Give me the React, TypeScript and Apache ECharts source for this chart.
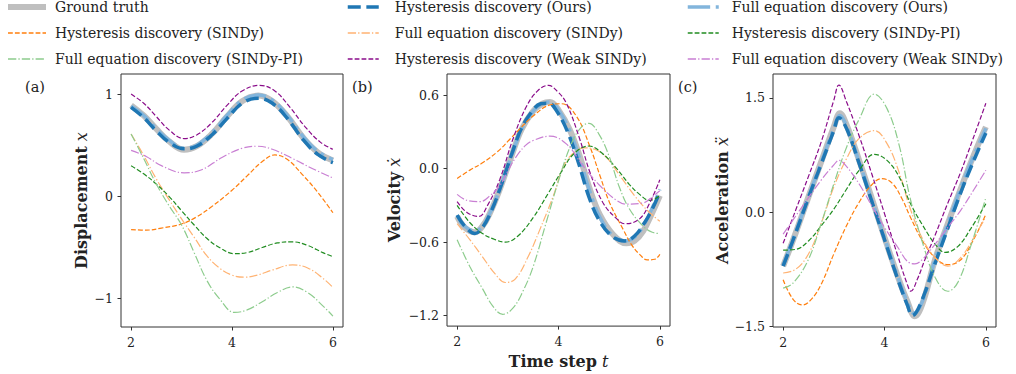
import React, { useEffect, useRef } from "react";
import * as echarts from "echarts";

// ---------- names ----------
const GT = "Ground truth";
const OURS_H = "Hysteresis discovery (Ours)";
const OURS_F = "Full equation discovery (Ours)";
const SINDY_H = "Hysteresis discovery (SINDy)";
const SINDY_F = "Full equation discovery (SINDy)";
const PI_H = "Hysteresis discovery (SINDy-PI)";
const PI_F = "Full equation discovery (SINDy-PI)";
const WEAK_H = "Hysteresis discovery (Weak SINDy)";
const WEAK_F = "Full equation discovery (Weak SINDy)";

const legendCol1 = [GT, SINDY_H, PI_F];
const legendCol2 = [OURS_H, SINDY_F, WEAK_H];
const legendCol3 = [OURS_F, PI_H, WEAK_F];

const xTicks = [2, 4, 6];
const yTicksA = [-1, 0, 1];
const yTicksB = [-1.2, -0.6, 0, 0.6];
const yTicksC = [-1.5, 0, 1.5];

// ---------- panel (a) displacement ----------
const gtA = [[2,0.89],[2.25,0.79],[2.5,0.66],[2.75,0.54],[3.05,0.455],[3.3,0.49],[3.6,0.61],[3.9,0.78],[4.2,0.93],[4.52,0.985],[4.8,0.93],[5.1,0.78],[5.4,0.58],[5.7,0.43],[6,0.35]];
const oursHA = [[2,0.87],[2.25,0.77],[2.5,0.64],[2.75,0.53],[3.05,0.465],[3.3,0.49],[3.6,0.6],[3.9,0.76],[4.2,0.91],[4.52,0.96],[4.8,0.91],[5.1,0.76],[5.4,0.56],[5.7,0.41],[6,0.33]];
const oursFA = [[2,0.88],[2.25,0.79],[2.5,0.66],[2.75,0.55],[3.05,0.47],[3.3,0.5],[3.6,0.62],[3.9,0.79],[4.2,0.94],[4.52,0.99],[4.8,0.94],[5.1,0.79],[5.4,0.59],[5.7,0.44],[6,0.36]];
const weakHA = [[2,1.0],[2.25,0.91],[2.5,0.78],[2.75,0.65],[3.05,0.565],[3.3,0.6],[3.6,0.72],[3.9,0.89],[4.2,1.03],[4.55,1.085],[4.85,1.03],[5.15,0.87],[5.45,0.68],[5.75,0.53],[6,0.46]];
const weakFA = [[2,0.45],[2.3,0.39],[2.6,0.3],[3.05,0.23],[3.4,0.26],[3.8,0.38],[4.2,0.47],[4.5,0.49],[4.8,0.46],[5.2,0.37],[5.6,0.27],[6,0.18]];
const sindyHA = [[2,-0.325],[2.3,-0.33],[2.6,-0.31],[3,-0.27],[3.3,-0.2],[3.6,-0.1],[4,0.06],[4.3,0.2],[4.6,0.34],[4.85,0.405],[5.1,0.36],[5.4,0.21],[5.7,0.04],[6,-0.16]];
const sindyFA = [[2,0.61],[2.25,0.4],[2.5,0.17],[2.75,-0.03],[3,-0.22],[3.25,-0.4],[3.5,-0.58],[3.75,-0.7],[4,-0.77],[4.25,-0.79],[4.5,-0.77],[4.8,-0.72],[5.2,-0.67],[5.5,-0.7],[5.8,-0.8],[6,-0.89]];
const piFA = [[2,0.61],[2.25,0.37],[2.5,0.12],[2.75,-0.09],[3,-0.28],[3.25,-0.55],[3.5,-0.82],[3.75,-1.0],[4.05,-1.135],[4.3,-1.11],[4.6,-1.03],[4.9,-0.94],[5.2,-0.885],[5.5,-0.94],[5.8,-1.07],[6,-1.17]];
const piHA = [[2,0.3],[2.25,0.22],[2.5,0.12],[2.75,0.0],[3,-0.14],[3.25,-0.28],[3.5,-0.41],[3.75,-0.5],[4.05,-0.56],[4.3,-0.55],[4.6,-0.5],[4.9,-0.455],[5.2,-0.445],[5.5,-0.48],[5.8,-0.55],[6,-0.59]];

// ---------- panel (b) velocity ----------
const gtB = [[2,-0.39],[2.15,-0.48],[2.35,-0.52],[2.5,-0.47],[2.65,-0.36],[2.84,-0.17],[3.07,0.1],[3.27,0.32],[3.5,0.47],[3.68,0.53],[3.83,0.545],[4,0.48],[4.22,0.32],[4.42,0.1],[4.62,-0.17],[4.82,-0.38],[5.08,-0.54],[5.34,-0.61],[5.5,-0.59],[5.67,-0.51],[5.85,-0.36],[6,-0.22]];
const oursHB = [[2,-0.38],[2.15,-0.47],[2.35,-0.53],[2.5,-0.48],[2.65,-0.37],[2.84,-0.17],[3.07,0.11],[3.27,0.33],[3.5,0.48],[3.65,0.53],[3.8,0.535],[3.98,0.46],[4.2,0.28],[4.4,0.04],[4.6,-0.23],[4.8,-0.42],[5.05,-0.55],[5.3,-0.59],[5.5,-0.55],[5.7,-0.44],[5.85,-0.33],[6,-0.19]];
const oursFB = [[2,-0.38],[2.15,-0.47],[2.35,-0.51],[2.5,-0.47],[2.65,-0.36],[2.84,-0.17],[3.07,0.1],[3.27,0.32],[3.5,0.47],[3.68,0.53],[3.83,0.545],[4,0.48],[4.22,0.31],[4.42,0.08],[4.62,-0.19],[4.82,-0.4],[5.08,-0.55],[5.32,-0.59],[5.5,-0.56],[5.67,-0.47],[5.85,-0.32],[6,-0.17]];
const weakHB = [[2,-0.27],[2.2,-0.36],[2.43,-0.39],[2.6,-0.3],[2.84,-0.09],[3.1,0.24],[3.37,0.51],[3.6,0.64],[3.8,0.68],[3.98,0.63],[4.16,0.53],[4.42,0.24],[4.62,-0.03],[4.88,-0.28],[5.15,-0.41],[5.31,-0.45],[5.6,-0.41],[5.8,-0.28],[6,-0.09]];
const weakFB = [[2,-0.21],[2.2,-0.26],[2.45,-0.27],[2.65,-0.22],[2.84,-0.14],[3,-0.02],[3.17,0.1],[3.35,0.19],[3.5,0.23],[3.83,0.265],[4.16,0.2],[4.49,0.02],[4.82,-0.14],[5.15,-0.26],[5.34,-0.29],[5.67,-0.28],[5.85,-0.23],[6,-0.18]];
const sindyHB = [[2,-0.08],[2.26,-0.01],[2.51,0.05],[2.8,0.14],[3.04,0.24],[3.25,0.33],[3.5,0.43],[3.83,0.52],[4.06,0.53],[4.35,0.43],[4.62,0.18],[4.82,-0.06],[5.01,-0.28],[5.28,-0.5],[5.44,-0.62],[5.6,-0.7],[5.75,-0.745],[5.9,-0.74],[6,-0.7]];
const sindyFB = [[2,-0.45],[2.25,-0.58],[2.5,-0.72],[2.75,-0.86],[2.95,-0.93],[3.15,-0.9],[3.4,-0.72],[3.63,-0.5],[3.9,-0.22],[4.1,0.02],[4.3,0.13],[4.5,0.17],[4.7,0.16],[4.95,0.09],[5.2,-0.05],[5.5,-0.22],[5.75,-0.34],[6,-0.43]];
const piFB = [[2,-0.58],[2.25,-0.8],[2.5,-0.98],[2.7,-1.12],[2.9,-1.19],[3.1,-1.14],[3.3,-1.0],[3.5,-0.8],[3.75,-0.45],[4,-0.1],[4.25,0.2],[4.45,0.34],[4.6,0.37],[4.8,0.28],[5,0.1],[5.2,-0.15],[5.4,-0.33],[5.67,-0.47],[5.85,-0.52],[6,-0.53]];
const piHB = [[2,-0.3],[2.25,-0.44],[2.5,-0.53],[2.75,-0.58],[2.95,-0.6],[3.2,-0.55],[3.5,-0.4],[3.8,-0.2],[4.05,-0.03],[4.3,0.12],[4.6,0.185],[4.85,0.13],[5.15,0.0],[5.4,-0.13],[5.6,-0.21],[5.8,-0.26],[6,-0.22]];

// ---------- panel (c) acceleration ----------
const gtC = [[2,-0.71],[2.25,-0.27],[2.5,0.2],[2.75,0.66],[3,1.12],[3.12,1.3],[3.25,1.15],[3.5,0.68],[3.75,0.18],[4,-0.33],[4.25,-0.82],[4.45,-1.17],[4.6,-1.37],[4.75,-1.2],[5,-0.62],[5.25,-0.15],[5.5,0.3],[5.75,0.73],[6,1.12]];
const oursHC = [[2,-0.71],[2.25,-0.27],[2.5,0.19],[2.75,0.63],[3,1.07],[3.1,1.24],[3.25,1.1],[3.5,0.64],[3.75,0.14],[4,-0.36],[4.25,-0.86],[4.45,-1.22],[4.55,-1.36],[4.7,-1.22],[5,-0.67],[5.25,-0.21],[5.5,0.25],[5.75,0.66],[6,1.04]];
const oursFC = [[2,-0.7],[2.25,-0.26],[2.5,0.2],[2.75,0.65],[3,1.1],[3.12,1.27],[3.25,1.13],[3.5,0.66],[3.75,0.16],[4,-0.34],[4.25,-0.83],[4.45,-1.18],[4.58,-1.33],[4.75,-1.17],[5,-0.62],[5.25,-0.15],[5.5,0.31],[5.75,0.72],[6,1.1]];
const weakHC = [[2,-0.41],[2.25,0.03],[2.5,0.47],[2.75,0.92],[3,1.47],[3.1,1.67],[3.25,1.45],[3.5,1.0],[3.75,0.5],[4,-0.02],[4.25,-0.55],[4.45,-0.95],[4.52,-1.04],[4.65,-0.88],[4.8,-0.62],[5,-0.3],[5.25,0.12],[5.5,0.52],[5.75,0.97],[6,1.43]];
const weakFC = [[2,-0.29],[2.25,-0.05],[2.5,0.19],[2.75,0.42],[3,0.62],[3.1,0.68],[3.25,0.6],[3.5,0.37],[3.75,0.08],[4,-0.2],[4.25,-0.45],[4.5,-0.67],[4.6,-0.68],[4.75,-0.62],[5,-0.42],[5.25,-0.2],[5.5,0.02],[5.75,0.28],[6,0.55]];
const sindyHC = [[2,-0.89],[2.2,-1.15],[2.38,-1.22],[2.55,-1.15],[2.75,-0.95],[3,-0.55],[3.25,-0.18],[3.5,0.13],[3.75,0.36],[3.95,0.44],[4.15,0.38],[4.35,0.17],[4.5,-0.05],[4.75,-0.38],[5,-0.6],[5.25,-0.69],[5.5,-0.63],[5.75,-0.37],[6,-0.03]];
const sindyFC = [[2,-0.8],[2.25,-0.75],[2.5,-0.55],[2.75,-0.15],[3,0.33],[3.25,0.7],[3.5,0.97],[3.8,1.07],[4.05,0.9],[4.3,0.5],[4.5,0.06],[4.75,-0.35],[5,-0.6],[5.25,-0.71],[5.5,-0.6],[5.75,-0.35],[6,-0.06]];
const piFC = [[2,-1.0],[2.2,-0.93],[2.5,-0.62],[2.75,-0.15],[3,0.37],[3.25,0.85],[3.5,1.22],[3.8,1.55],[4.05,1.36],[4.3,0.85],[4.5,0.2],[4.75,-0.4],[5,-0.86],[5.25,-1.04],[5.45,-0.92],[5.7,-0.45],[6,0.19]];
const piHC = [[2,-0.5],[2.25,-0.49],[2.5,-0.38],[2.75,-0.18],[3,0.04],[3.25,0.3],[3.5,0.55],[3.8,0.76],[4.05,0.68],[4.3,0.45],[4.5,0.13],[4.75,-0.17],[5,-0.42],[5.2,-0.53],[5.45,-0.45],[5.7,-0.22],[6,0.11]];

// ---------- styles ----------
const SERIF = "DejaVu Serif";
const TXT = "#222222";
const thinDash = [4.8, 2.1];
const thinDashDot = [8.3, 2.1, 1.3, 2.1];
const styles: Record<string, { color: string; width: number; type: any }> = {
  [GT]: { color: "#bfbfbf", width: 6, type: "solid" },
  [OURS_F]: { color: "#82b5dc", width: 3.5, type: [22.4, 5.6, 3.5, 5.6] },
  [OURS_H]: { color: "#1f77b4", width: 3.5, type: [13, 5.6] },
  [SINDY_H]: { color: "#ff7f0e", width: 1.2, type: thinDash },
  [SINDY_F]: { color: "#ffb373", width: 1.2, type: thinDashDot },
  [PI_H]: { color: "#208c20", width: 1.2, type: thinDash },
  [PI_F]: { color: "#8dcc8d", width: 1.2, type: thinDashDot },
  [WEAK_H]: { color: "#8a0c8a", width: 1.2, type: thinDash },
  [WEAK_F]: { color: "#c97fd3", width: 1.2, type: thinDashDot },
};

const panelData = [
  { [GT]: gtA, [OURS_F]: oursFA, [OURS_H]: oursHA, [SINDY_H]: sindyHA, [SINDY_F]: sindyFA, [PI_H]: piHA, [PI_F]: piFA, [WEAK_H]: weakHA, [WEAK_F]: weakFA },
  { [GT]: gtB, [OURS_F]: oursFB, [OURS_H]: oursHB, [SINDY_H]: sindyHB, [SINDY_F]: sindyFB, [PI_H]: piHB, [PI_F]: piFB, [WEAK_H]: weakHB, [WEAK_F]: weakFB },
  { [GT]: gtC, [OURS_F]: oursFC, [OURS_H]: oursHC, [SINDY_H]: sindyHC, [SINDY_F]: sindyFC, [PI_H]: piHC, [PI_F]: piFC, [WEAK_H]: weakHC, [WEAK_F]: weakFC },
];
const drawOrder = [GT, OURS_F, OURS_H, SINDY_H, SINDY_F, PI_H, PI_F, WEAK_H, WEAK_F];

const grids = [
  { left: 121, top: 74, width: 222, height: 253 },
  { left: 447, top: 74, width: 223, height: 253 },
  { left: 773, top: 74, width: 223, height: 253 },
];
const yRanges = [
  { min: -1.277, max: 1.196, ticks: yTicksA, dec: 0, name: "{b|Displacement} {i|x}", gap: 32 },
  { min: -1.286, max: 0.773, ticks: yTicksB, dec: 1, name: "{b|Velocity} {i|ẋ}", gap: 45 },
  { min: -1.51, max: 1.815, ticks: yTicksC, dec: 1, name: "{b|Acceleration} {i|ẍ}", gap: 43 },
];

const fmt = (v: number, dec: number) => {
  const s = Math.abs(v).toFixed(dec);
  return v < -1e-9 ? "\u2212" + s : s;
};

const nameRich = {
  b: { fontFamily: SERIF, fontWeight: "bold", fontSize: 16, color: TXT },
  i: { fontFamily: SERIF, fontStyle: "italic", fontWeight: "normal", fontSize: 16, color: TXT },
};

export default function App() {
  const ref = useRef<HTMLDivElement>(null);
  useEffect(() => {
    if (!ref.current) return;
    const chart = echarts.init(ref.current, null, { renderer: "svg" });

    const xAxis = grids.map((_, i) => ({
      type: "value",
      gridIndex: i,
      min: 1.8,
      max: 6.2,
      splitLine: { show: false },
      axisLine: { show: false, onZero: false },
      axisTick: { show: true, inside: false, length: 3.5, customValues: xTicks, lineStyle: { color: "#333", width: 1 } },
      axisLabel: {
        customValues: xTicks,
        margin: 9,
        fontFamily: SERIF,
        fontSize: 12.5,
        color: TXT,
        formatter: (v: number) => fmt(v, 0),
      },
      name: i === 1 ? "{b|Time step} {i|t}" : "",
      nameLocation: "middle",
      nameGap: 25,
      nameTextStyle: { rich: nameRich, fontFamily: SERIF, fontSize: 16, color: TXT },
    }));

    const yAxis = yRanges.map((r, i) => ({
      type: "value",
      gridIndex: i,
      min: r.min,
      max: r.max,
      splitLine: { show: false },
      axisLine: { show: false, onZero: false },
      axisTick: { show: true, inside: false, length: 3.5, customValues: r.ticks, lineStyle: { color: "#333", width: 1 } },
      axisLabel: {
        customValues: r.ticks,
        margin: 8,
        fontFamily: SERIF,
        fontSize: 12.5,
        color: TXT,
        formatter: (v: number) => fmt(v, r.dec),
      },
      name: r.name,
      nameLocation: "middle",
      nameGap: r.gap,
      nameTextStyle: { rich: nameRich, fontFamily: SERIF, fontSize: 16, color: TXT },
    }));

    const series: any[] = [];
    panelData.forEach((pd, i) => {
      drawOrder.forEach((name) => {
        const st = styles[name];
        series.push({
          type: "line",
          name,
          xAxisIndex: i,
          yAxisIndex: i,
          data: (pd as any)[name],
          symbol: "none",
          smooth: 0.4,
          itemStyle: { color: st.color },
          lineStyle: { color: st.color, width: st.width, type: st.type, cap: "butt" },
          emphasis: { disabled: true },
          silent: true,
        });
      });
    });

    const legendItems = (names: string[]) =>
      names.map((n) => ({
        name: n,
        lineStyle: { color: styles[n].color, width: Math.max(styles[n].width, 1.4), type: styles[n].type, cap: "butt", opacity: 1 },
        itemStyle: { color: styles[n].color, opacity: 0 },
      }));
    const legendBase = {
      orient: "vertical",
      top: 0,
      padding: 0,
      itemHeight: 16,
      itemGap: 12,
      selectedMode: false,
    };
    const legendText = (pad: number) => ({
      fontFamily: SERIF,
      fontSize: 14,
      color: TXT,
      padding: [0, 0, 0, pad],
    });

    chart.setOption({
      animation: false,
      backgroundColor: "#ffffff",
      grid: grids.map((g) => ({ ...g, show: true, borderColor: "#333", borderWidth: 1, backgroundColor: "transparent" })),
      xAxis,
      yAxis,
      legend: [
        { ...legendBase, left: 5, itemWidth: 38, data: legendItems(legendCol1), textStyle: legendText(4) },
        { ...legendBase, left: 346, itemWidth: 31, data: legendItems(legendCol2), textStyle: legendText(11) },
        { ...legendBase, left: 686, itemWidth: 31, data: legendItems(legendCol3), textStyle: legendText(8) },
      ],
      graphic: [
        { type: "text", left: 25, top: 79, style: { text: "(a)", font: `14.5px "${SERIF}"`, fill: TXT } },
        { type: "text", left: 352, top: 79, style: { text: "(b)", font: `14.5px "${SERIF}"`, fill: TXT } },
        { type: "text", left: 678, top: 79, style: { text: "(c)", font: `14.5px "${SERIF}"`, fill: TXT } },
      ],
      series,
    });
    return () => chart.dispose();
  }, []);
  return (
    <div
      ref={ref}
      style={{ position: "fixed", left: 0, top: 0, width: 1016, height: 374, background: "#fff" }}
    />
  );
}
